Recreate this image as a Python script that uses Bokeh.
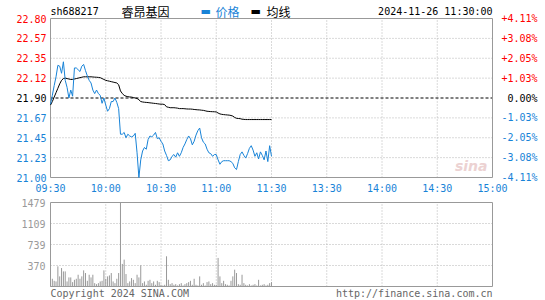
from bokeh.plotting import figure
from bokeh.models import ColumnDataSource, Range1d
from bokeh.core.properties import value, field
from bokeh.embed import file_html
from bokeh.resources import INLINE

# ---------------- data ----------------
minutes = list(range(121))  # 09:30 .. 11:30, one point per minute

price = [
    21.83, 21.93, 22.04, 22.14, 22.27, 22.26, 22.18, 22.31, 22.10, 22.02,
    21.90, 21.99, 21.92, 22.24, 22.24, 22.22, 22.20, 22.26, 22.28, 22.21,
    22.15, 22.10, 22.07, 21.99, 21.95, 21.99, 21.95, 21.93, 21.84, 21.90,
    21.82, 21.75, 21.78, 21.86, 21.86, 21.90, 21.85, 21.78, 21.49, 21.49,
    21.51, 21.45, 21.49, 21.47, 21.46, 21.47, 21.50, 21.28, 21.00, 21.20,
    21.30, 21.34, 21.32, 21.43, 21.47, 21.46, 21.48, 21.51, 21.44, 21.45,
    21.41, 21.38, 21.30, 21.25, 21.19, 21.20, 21.24, 21.26, 21.23, 21.28,
    21.24, 21.28, 21.34, 21.38, 21.43, 21.47, 21.44, 21.37, 21.41, 21.48,
    21.53, 21.56, 21.45, 21.40, 21.38, 21.32, 21.28, 21.27, 21.24, 21.26,
    21.26, 21.20, 21.15, 21.18, 21.19, 21.19, 21.19, 21.19, 21.18, 21.16,
    21.11, 21.09, 21.18, 21.26, 21.29, 21.25, 21.22, 21.27, 21.33, 21.36,
    21.31, 21.24, 21.28, 21.21, 21.29, 21.25, 21.20, 21.30, 21.18, 21.36,
    21.24,
]

avg_price = [
    21.82, 21.86, 21.91, 21.96, 22.01, 22.06, 22.10, 22.12, 22.125, 22.12,
    22.115, 22.11, 22.11, 22.115, 22.12, 22.125, 22.13, 22.135, 22.14, 22.14,
    22.14, 22.14, 22.14, 22.138, 22.136, 22.135, 22.133, 22.13, 22.12, 22.11,
    22.10, 22.095, 22.09, 22.085, 22.08, 22.075, 22.07, 22.05, 21.98, 21.95,
    21.93, 21.92, 21.915, 21.912, 21.91, 21.905, 21.90, 21.895, 21.88, 21.86,
    21.855, 21.852, 21.85, 21.848, 21.845, 21.843, 21.84, 21.838, 21.835, 21.832,
    21.83, 21.83, 21.825, 21.80, 21.795, 21.79, 21.79, 21.79, 21.788, 21.785,
    21.78, 21.78, 21.78, 21.778, 21.776, 21.775, 21.775, 21.773, 21.77, 21.768,
    21.766, 21.765, 21.762, 21.76, 21.755, 21.75, 21.748, 21.746, 21.745, 21.744,
    21.742, 21.73, 21.72, 21.715, 21.712, 21.71, 21.708, 21.706, 21.702, 21.695,
    21.68, 21.67, 21.668, 21.666, 21.66, 21.658, 21.656, 21.656, 21.656, 21.656,
    21.656, 21.656, 21.656, 21.656, 21.656, 21.656, 21.656, 21.656, 21.656, 21.656,
    21.656,
]

volume = [
    150, 136, 100, 89, 355, 178, 325, 266, 266, 89,
    160, 160, 77, 118, 136, 207, 136, 178, 284, 237,
    100, 207, 160, 207, 59, 41, 59, 89, 100, 284,
    136, 178, 195, 237, 89, 59, 136, 237, 1479, 397,
    473, 219, 59, 89, 148, 118, 59, 207, 160, 373,
    59, 89, 30, 100, 118, 59, 89, 30, 100, 77,
    30, 18, 30, 532, 118, 41, 59, 30, 41, 18,
    41, 59, 18, 41, 59, 77, 100, 30, 136, 30,
    18, 178, 30, 59, 18, 77, 89, 41, 59, 30,
    30, 503, 178, 59, 100, 41, 30, 18, 100, 178,
    296, 237, 41, 30, 207, 59, 30, 18, 41, 18,
    30, 41, 18, 118, 18, 30, 41, 18, 30, 59,
    77,
]

prev_close = 21.90
price_ticks = [21.00, 21.225, 21.45, 21.675, 21.90, 22.125, 22.35, 22.575, 22.80]
price_labels = ["21.00", "21.23", "21.45", "21.67", "21.90", "22.12", "22.35", "22.57", "22.80"]
pct_labels = ["-4.11%", "-3.08%", "-2.05%", "-1.03%", "0.00%", "+1.03%", "+2.05%", "+3.08%", "+4.11%"]
time_ticks = [0, 30, 60, 90, 120, 150, 180, 210, 240]
time_labels = ["09:30", "10:00", "10:30", "11:00", "11:30", "13:30", "14:00", "14:30", "15:00"]
vol_ticks = [0, 369.75, 739.5, 1109.25, 1479]
vol_labels = ["", "370", "739", "1109", "1479"]

code = "sh688217"
name = "睿昂基因"
legend_names = ["价格", "均线"]
stamp = "2024-11-26 11:30:00"
copyright_text = "Copyright 2024 SINA.COM"
url_text = "http://finance.sina.com.cn"

# ---------------- layout & styles ----------------
W, H = 545, 300
PX_L, PX_R = 50, 492          # panel left / right edge (px)
P_TOP, P_BOT = 18, 177        # price panel top / bottom (px)
V_TOP, V_BOT = 202, 286       # volume panel top / bottom (px)

BLUE = "#1883d7"
RED = "#ff0000"
GRID = "#b4b4b4"
FRAME = "#999999"
VOLC = "#999999"
MONO = "DejaVu Sans Mono"
CJK = "Noto Sans CJK SC"

t0, t1 = time_ticks[0], time_ticks[-1]
pmin, pmax = price_ticks[0], price_ticks[-1]
vmin, vmax = vol_ticks[0], vol_ticks[-1]

ux = (PX_R - PX_L) / (t1 - t0)
uy = (P_BOT - P_TOP) / (pmax - pmin)
uv = (V_BOT - V_TOP) / (vmax - vmin)

p = figure(width=W, height=H, min_border=0,
           x_range=Range1d(t0 - PX_L / ux, t1 + (W - PX_R) / ux),
           y_range=Range1d(pmin - (H - P_BOT) / uy, pmax + P_TOP / uy),
           x_axis_location=None, y_axis_location=None,
           output_backend="svg", toolbar_location=None)
p.extra_y_ranges = {"vol": Range1d(vmin - (H - V_BOT) / uv, vmax + V_TOP / uv)}
p.grid.visible = False
p.outline_line_color = None
p.background_fill_color = "white"
p.border_fill_color = "white"

# ---------- price panel ----------
inner_t = time_ticks[1:-1]
p.segment(x0=inner_t, y0=[pmin] * len(inner_t), x1=inner_t, y1=[pmax] * len(inner_t),
          line_color=GRID, line_width=1, line_dash="1 2")
hgrid = [t for t in price_ticks[1:-1] if abs(t - prev_close) > 1e-9]
p.segment(x0=[t0] * len(hgrid), y0=hgrid, x1=[t1] * len(hgrid), y1=hgrid,
          line_color=GRID, line_width=1, line_dash="1 2")
p.segment(x0=[t0], y0=[prev_close], x1=[t1], y1=[prev_close],
          line_color="black", line_width=1, line_dash="3 2")
p.quad(left=[t0], right=[t1], bottom=[pmin], top=[pmax],
       fill_color=None, line_color=FRAME, line_width=1)

p.line(minutes, avg_price, line_color="black", line_width=1)
p.line(minutes, price, line_color=BLUE, line_width=1)

def tick_color(t):
    if t > prev_close + 1e-9:
        return RED
    if t < prev_close - 1e-9:
        return BLUE
    return "black"

colors = [tick_color(t) for t in price_ticks]
lab = ColumnDataSource(dict(xl=[t0] * len(price_ticks), xr=[t1] * len(price_ticks),
                            y=price_ticks, left=price_labels, right=pct_labels,
                            color=colors))
mono10 = dict(text_font=value(MONO), text_font_size="10px", text_baseline="middle")
p.text(x="xl", y="y", text="left", source=lab, text_align="right", x_offset=-4,
       text_color=field("color"), **mono10)
p.text(x="xr", y="y", text="right", source=lab, text_align="right", x_offset=45,
       text_color=field("color"), **mono10)

# time labels between the panels
p.text(x=time_ticks, y=[pmin] * len(time_ticks), text=time_labels,
       text_align="center", text_baseline="top", y_offset=5,
       text_color=BLUE, text_font=value(MONO), text_font_size="10px")

# header
hdr = dict(text_baseline="middle", y_offset=-7)
p.text(x=[t0], y=[pmax], text=[code], text_align="left", text_color="black",
       text_font=value(MONO), text_font_size="10px", **hdr)
p.text(x=[t0], y=[pmax], text=[name], text_align="left", x_offset=71, text_color="black",
       text_font=value(CJK), text_font_size="12px", **hdr)
p.text(x=[t0, t0], y=[pmax, pmax], text=["▬", "▬"], text_align="left",
       x_offset=[150, 200], text_color=[BLUE, "black"],
       text_font=value("DejaVu Sans"), text_font_size="11px", **hdr)
p.text(x=[t0, t0], y=[pmax, pmax], text=legend_names, text_align="left",
       x_offset=[165, 216], text_color=[BLUE, "black"],
       text_font=value(CJK), text_font_size="12px", **hdr)
p.text(x=[t1], y=[pmax], text=[stamp], text_align="right", text_color="black",
       text_font=value(MONO), text_font_size="10px", **hdr)

# faint logo
p.text(x=[t1], y=[pmin], text=["sina"], text_align="right", text_baseline="middle",
       x_offset=-5, y_offset=-12, text_color="#ecd2d2",
       text_font=value("DejaVu Sans"), text_font_style="bold italic",
       text_font_size="14px")

# ---------- volume panel ----------
p.segment(x0=inner_t, y0=[vmin] * len(inner_t), x1=inner_t, y1=[vmax] * len(inner_t),
          line_color=GRID, line_width=1, line_dash="1 2", y_range_name="vol")
vg = vol_ticks[1:-1]
p.segment(x0=[t0] * len(vg), y0=vg, x1=[t1] * len(vg), y1=vg,
          line_color=GRID, line_width=1, line_dash="1 2", y_range_name="vol")
p.segment(x0=minutes, y0=[vmin] * len(minutes), x1=minutes, y1=volume,
          line_color=VOLC, line_width=1, y_range_name="vol")
p.quad(left=[t0], right=[t1], bottom=[vmin], top=[vmax],
       fill_color=None, line_color=FRAME, line_width=1, y_range_name="vol")

p.text(x=[t0] * len(vol_ticks), y=vol_ticks, text=vol_labels, text_align="right",
       x_offset=-5, text_color="#999999", y_range_name="vol", **mono10)

p.text(x=[t0], y=[vmin], text=[copyright_text], text_align="left", y_offset=7,
       text_color="#666666", y_range_name="vol", **mono10)
p.text(x=[t1], y=[vmin], text=[url_text], text_align="right", y_offset=7,
       text_color="#666666", y_range_name="vol", **mono10)

open("out.html", "w").write(file_html(p, INLINE))
